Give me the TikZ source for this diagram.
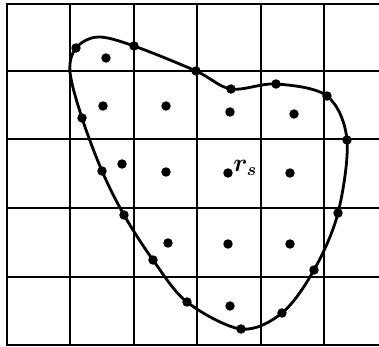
\documentclass[tikz,border=0pt]{standalone}
\usepackage{amsmath}
\usetikzlibrary{positioning}

\begin{document}
\begin{tikzpicture}[
  x=0.02cm, y=-0.02cm,
  gridline/.style={line width=1.2pt},
  frame/.style={line width=1.6pt},
  outline/.style={line width=1.6pt},
  pt/.style={circle, fill=black, inner sep=0pt, minimum size=5.4pt}
]
\useasboundingbox (0,0) rectangle (379,347);
% grid
\foreach \x in {70,134,197,261,324} \draw[gridline] (\x,4) -- (\x,345);
\foreach \y in {71,139,208,277} \draw[gridline] (7,\y) -- (379,\y);
\draw[frame] (379,4) -- (7,4) -- (7,345) -- (379,345);
% boundary samples
\foreach \i/\p in {1/{76,48}, 2/{134,46}, 3/{196,71}, 4/{231,89}, 5/{276,84},
  6/{327,96}, 7/{347,140}, 8/{338,213}, 9/{314,270}, 10/{282,313},
  11/{241,329}, 12/{187,302}, 13/{153,260}, 14/{124,215}, 15/{102,171},
  16/{82,118}}
  \coordinate (b\i) at (\p);
\coordinate (top) at (98,37);
\coordinate (left) at (70,72);
\draw[outline] plot[smooth cycle, tension=0.55] coordinates {(b1) (top) (b2) (b3)
  (b4) (b5) (b6) (b7) (b8) (b9) (b10) (b11) (b12) (b13) (b14) (b15) (b16) (left)};
\foreach \i in {1,...,16} \node[pt] (d\i) at (b\i) {};
% interior samples
\foreach \i/\p in {1/{106,58}, 2/{103,106}, 3/{166,106}, 4/{230,112}, 5/{294,114},
  6/{122,164}, 7/{166,172}, 8/{228,173}, 9/{290,173}, 10/{168,243},
  11/{228,244}, 12/{290,244}, 13/{230,306}}
  \node[pt] (s\i) at (\p) {};
\node[font=\fontsize{14}{16}\selectfont, inner sep=0pt, above right=-1.2mm and 0.3mm of s8] (rs) {$\boldsymbol{r_s}$};
\end{tikzpicture}
\end{document}
